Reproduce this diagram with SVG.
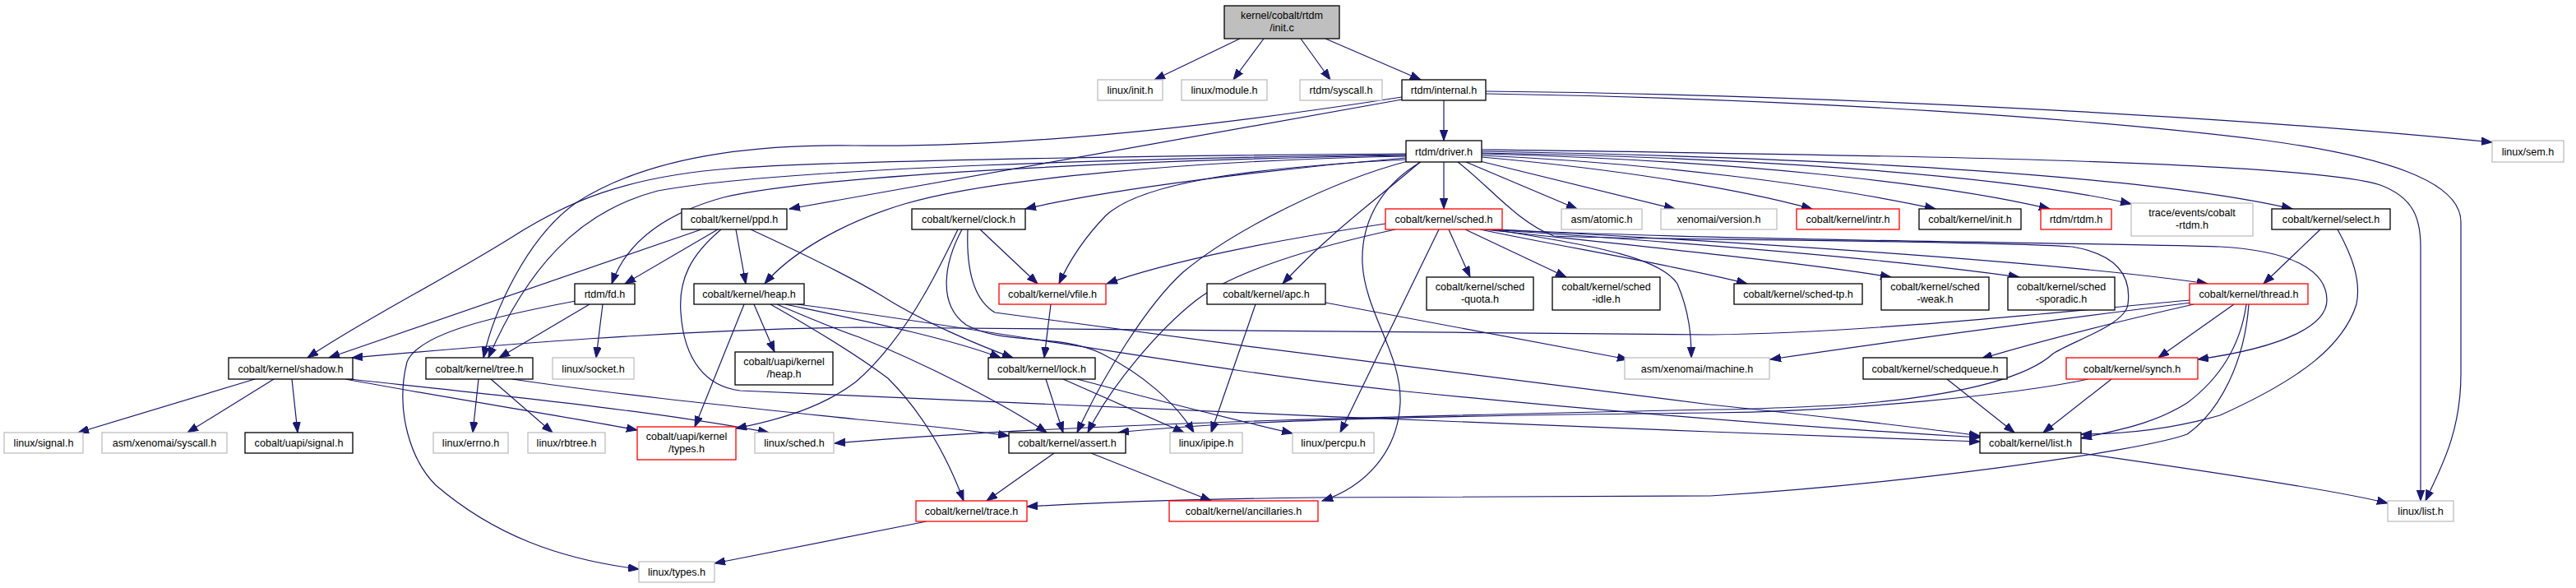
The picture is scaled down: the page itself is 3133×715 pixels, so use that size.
<svg xmlns="http://www.w3.org/2000/svg" width="3133" height="715" viewBox="0 0 3133 715">
<style>
.b{fill:#fff;stroke:#000;stroke-width:1.3}
.g{fill:#fff;stroke:#bfbfbf;stroke-width:1.3}
.r{fill:#fff;stroke:#f00;stroke-width:1.3}
.root{fill:#bfbfbf;stroke:#000;stroke-width:1.3}
text{font-family:"Liberation Sans",Arial,Helvetica,sans-serif;font-size:12.6px;fill:#000;text-anchor:middle}
.e path{fill:none;stroke:#191970;stroke-width:1.2;marker-end:url(#a)}
</style>
<defs>
<marker id="a" markerWidth="14" markerHeight="10" refX="13" refY="5" orient="auto" markerUnits="userSpaceOnUse"><path d="M0,0.3 L13,5 L0,9.7 z" fill="#191970" stroke="#191970" stroke-width="1"/></marker>
</defs>
<rect width="3133" height="715" fill="#fff"/>
<g class="e" id="edges">
<path d="M1508,47 L1404,97"/>
<path d="M1537,47 L1500,97"/>
<path d="M1582,47 L1618,97"/>
<path d="M1612,47 L1728,97"/>
<path d="M1756,122 L1756,171"/>
<path d="M1807,111 C2200,115 2700,140 3031,173"/>
<path d="M1807,114 C2200,120 2550,145 2750,170 C2900,190 2993,220 2993,270 L2993,455 C2993,530 2965,575 2950,609"/>
<path d="M1705,121 L960,254"/>
<path d="M1705,118 C1500,150 1250,180 1040,177 C900,175 780,195 700,247 C640,290 600,380 588,435"/>
<path d="M1756,197 L1756,254"/>
<path d="M1783,197 L1918,254"/>
<path d="M1800,196 L2037,254"/>
<path d="M1802,191 C1960,205 2110,228 2204,254"/>
<path d="M1802,189 C2010,198 2220,225 2354,254"/>
<path d="M1802,187 C2100,195 2360,222 2493,254"/>
<path d="M1802,186 C2150,192 2450,215 2592,248"/>
<path d="M1802,184 C2250,192 2620,215 2788,254"/>
<path d="M1802,182 C2250,188 2800,195 2895,225 C2935,240 2944,265 2944,300 L2944,609"/>
<path d="M1710,192 C1550,205 1350,230 1247,254"/>
<path d="M1710,194 C1500,205 1385,225 1345,262 C1318,290 1300,318 1288,345"/>
<path d="M1710,190 C1450,195 1200,218 1100,248 C1020,272 960,310 930,345"/>
<path d="M1710,189 C1400,194 1000,212 880,240 C800,262 760,300 744,345"/>
<path d="M1710,188 C1400,192 950,204 800,232 C700,258 640,330 594,435"/>
<path d="M1710,187 C1400,189 1000,196 887,205 C760,215 690,245 620,290 C540,340 440,390 374,435"/>
<path d="M1727,197 C1690,230 1620,280 1560,345"/>
<path d="M1712,196 C1620,220 1500,280 1440,330 C1395,370 1340,460 1310,526"/>
<path d="M1728,197 C1680,225 1655,270 1657,320 C1660,380 1705,430 1703,490 C1700,550 1660,592 1608,609"/>
<path d="M1773,197 C1810,225 1845,270 1890,287 C2000,292 2400,292 2520,300 C2580,310 2592,340 2588,370 C2585,395 2520,415 2497,430 C2470,455 2400,480 2250,492 C2150,497 2100,498 2080,498 C1700,506 1300,515 1015,539"/>
<path d="M1762,279 L1788,337"/>
<path d="M1782,279 L1905,337"/>
<path d="M1800,279 C1900,300 2050,325 2125,345"/>
<path d="M1805,279 C2000,300 2200,320 2300,337"/>
<path d="M1810,279 C2050,295 2300,315 2456,337"/>
<path d="M1815,279 C2100,293 2500,318 2685,345"/>
<path d="M1820,279 C2100,293 2550,295 2700,300 C2790,305 2830,330 2830,365 C2830,395 2780,422 2673,437"/>
<path d="M1815,279 C1950,300 2020,315 2040,345 C2055,380 2057,410 2057,435"/>
<path d="M1685,272 C1550,292 1420,318 1346,345"/>
<path d="M1697,279 C1600,300 1500,330 1455,365 C1410,400 1350,470 1323,526"/>
<path d="M1750,279 L1630,526"/>
<path d="M2717,370 L2625,435"/>
<path d="M2732,370 C2725,420 2700,460 2660,490 C2620,515 2580,522 2531,533"/>
<path d="M2735,370 C2730,440 2700,500 2660,528 C2600,550 2300,590 2080,603 L1600,605 C1450,607 1350,610 1249,616"/>
<path d="M2665,368 C2450,395 2300,415 2153,437"/>
<path d="M2663,365 C2450,385 2250,405 2080,407 C1700,404 1200,398 1043,398 C800,402 600,420 428,435"/>
<path d="M2668,370 C2580,390 2480,415 2410,436"/>
<path d="M2822,279 L2753,345"/>
<path d="M2843,279 C2860,310 2872,340 2866,370 C2850,420 2800,460 2700,505 C2640,522 2580,528 2531,528"/>
<path d="M2568,461 L2485,526"/>
<path d="M2540,461 C2450,480 2250,500 2080,502 C1800,505 1500,510 1360,526"/>
<path d="M2368,461 L2450,526"/>
<path d="M2531,551 C2700,575 2850,598 2904,612"/>
<path d="M1527,370 L1473,526"/>
<path d="M1612,368 L1980,437"/>
<path d="M1192,279 L1262,345"/>
<path d="M1165,279 C1150,310 1135,340 1123,360 C1100,400 1070,440 1040,465 C1000,495 950,510 895,521"/>
<path d="M1170,279 C1148,320 1140,370 1175,395 C1220,420 1290,405 1340,430 C1390,455 1430,490 1452,526"/>
<path d="M1177,279 C1175,330 1185,365 1210,380 C1500,420 1900,470 2080,492 C2250,510 2350,522 2408,530"/>
<path d="M853,279 L400,435"/>
<path d="M873,279 L760,345"/>
<path d="M895,279 L907,345"/>
<path d="M913,279 C980,310 1040,340 1073,360 C1120,390 1190,420 1232,435"/>
<path d="M877,279 C840,310 825,340 828,380 C832,440 860,470 900,475 C1200,490 1700,510 2080,525 C2250,532 2350,535 2408,537"/>
<path d="M733,370 L725,435"/>
<path d="M717,370 L607,435"/>
<path d="M700,366 C600,385 510,405 495,440 C480,500 500,560 530,590 C600,650 680,680 777,692"/>
<path d="M917,370 L942,428"/>
<path d="M905,370 L845,519"/>
<path d="M955,370 C1050,390 1150,410 1217,435"/>
<path d="M970,370 C1200,400 1500,455 1700,475 C1950,500 2200,520 2408,532"/>
<path d="M945,370 C980,385 1010,398 1045,410 C1120,440 1220,490 1273,526"/>
<path d="M937,370 C990,400 1040,430 1080,460 C1120,500 1150,550 1172,609"/>
<path d="M1278,370 L1270,435"/>
<path d="M1272,461 L1293,526"/>
<path d="M1293,461 L1440,526"/>
<path d="M1310,461 C1400,485 1500,510 1572,527"/>
<path d="M310,461 L95,526"/>
<path d="M333,461 L228,526"/>
<path d="M355,461 L362,526"/>
<path d="M420,461 C550,485 680,505 775,523"/>
<path d="M425,461 C600,480 800,500 935,526"/>
<path d="M582,461 L575,526"/>
<path d="M597,461 L672,526"/>
<path d="M623,461 C750,480 900,495 1043,510 C1100,515 1170,522 1227,530"/>
<path d="M1282,551 L1200,609"/>
<path d="M1327,551 L1473,609"/>
<path d="M1127,634 L869,685"/>
</g>
<g id="n_root"><rect class="root" x="1489" y="7" width="140" height="40"/><text x="1559" y="22.5">kernel/cobalt/rtdm</text><text x="1559" y="37.5">/init.c</text></g>
<g id="n_linux_init"><rect class="g" x="1335" y="97" width="79" height="25"/><text x="1374.5" y="114">linux/init.h</text></g>
<g id="n_linux_module"><rect class="g" x="1437" y="97" width="104" height="25"/><text x="1489" y="114">linux/module.h</text></g>
<g id="n_rtdm_syscall"><rect class="g" x="1581" y="97" width="100" height="25"/><text x="1631" y="114">rtdm/syscall.h</text></g>
<g id="n_internal"><rect class="b" x="1705" y="97" width="102" height="25"/><text x="1756" y="114">rtdm/internal.h</text></g>
<g id="n_driver"><rect class="b" x="1710" y="171" width="92" height="26"/><text x="1756" y="188.5">rtdm/driver.h</text></g>
<g id="n_sem"><rect class="g" x="3031" y="171" width="87" height="26"/><text x="3074.5" y="188.5">linux/sem.h</text></g>
<g id="n_ppd"><rect class="b" x="829" y="254" width="128" height="25"/><text x="893" y="271">cobalt/kernel/ppd.h</text></g>
<g id="n_clock"><rect class="b" x="1109" y="254" width="138" height="25"/><text x="1178" y="271">cobalt/kernel/clock.h</text></g>
<g id="n_sched"><rect class="r" x="1685" y="254" width="142" height="25"/><text x="1756" y="271">cobalt/kernel/sched.h</text></g>
<g id="n_atomic"><rect class="g" x="1899" y="254" width="98" height="25"/><text x="1948" y="271">asm/atomic.h</text></g>
<g id="n_version"><rect class="g" x="2020" y="254" width="141" height="25"/><text x="2090.5" y="271">xenomai/version.h</text></g>
<g id="n_intr"><rect class="r" x="2185" y="254" width="125" height="25"/><text x="2247.5" y="271">cobalt/kernel/intr.h</text></g>
<g id="n_kinit"><rect class="b" x="2334" y="254" width="124" height="25"/><text x="2396" y="271">cobalt/kernel/init.h</text></g>
<g id="n_rtdm"><rect class="r" x="2482" y="254" width="86" height="25"/><text x="2525" y="271">rtdm/rtdm.h</text></g>
<g id="n_trace_ev"><rect class="g" x="2592" y="247" width="148" height="40"/><text x="2666" y="262.5">trace/events/cobalt</text><text x="2666" y="277.5">-rtdm.h</text></g>
<g id="n_select"><rect class="b" x="2763" y="254" width="144" height="25"/><text x="2835" y="271">cobalt/kernel/select.h</text></g>
<g id="n_fd"><rect class="b" x="699" y="345" width="73" height="25"/><text x="735.5" y="362">rtdm/fd.h</text></g>
<g id="n_heap"><rect class="b" x="844" y="345" width="134" height="25"/><text x="911" y="362">cobalt/kernel/heap.h</text></g>
<g id="n_vfile"><rect class="r" x="1215" y="345" width="130" height="25"/><text x="1280" y="362">cobalt/kernel/vfile.h</text></g>
<g id="n_apc"><rect class="b" x="1468" y="345" width="144" height="25"/><text x="1540" y="362">cobalt/kernel/apc.h</text></g>
<g id="n_quota"><rect class="b" x="1735" y="337" width="130" height="40"/><text x="1800" y="352.5">cobalt/kernel/sched</text><text x="1800" y="367.5">-quota.h</text></g>
<g id="n_idle"><rect class="b" x="1888" y="337" width="131" height="40"/><text x="1953.5" y="352.5">cobalt/kernel/sched</text><text x="1953.5" y="367.5">-idle.h</text></g>
<g id="n_tp"><rect class="b" x="2109" y="345" width="156" height="25"/><text x="2187" y="362">cobalt/kernel/sched-tp.h</text></g>
<g id="n_weak"><rect class="b" x="2288" y="337" width="131" height="40"/><text x="2353.5" y="352.5">cobalt/kernel/sched</text><text x="2353.5" y="367.5">-weak.h</text></g>
<g id="n_sporadic"><rect class="b" x="2442" y="337" width="130" height="40"/><text x="2507" y="352.5">cobalt/kernel/sched</text><text x="2507" y="367.5">-sporadic.h</text></g>
<g id="n_thread"><rect class="r" x="2663" y="345" width="144" height="25"/><text x="2735" y="362">cobalt/kernel/thread.h</text></g>
<g id="n_shadow"><rect class="b" x="278" y="435" width="151" height="26"/><text x="353.5" y="452.5">cobalt/kernel/shadow.h</text></g>
<g id="n_tree"><rect class="b" x="518" y="435" width="130" height="26"/><text x="583" y="452.5">cobalt/kernel/tree.h</text></g>
<g id="n_socket"><rect class="g" x="672" y="435" width="99" height="26"/><text x="721.5" y="452.5">linux/socket.h</text></g>
<g id="n_uheap"><rect class="b" x="894" y="428" width="119" height="40"/><text x="953.5" y="443.5">cobalt/uapi/kernel</text><text x="953.5" y="458.5">/heap.h</text></g>
<g id="n_lock"><rect class="b" x="1202" y="435" width="130" height="26"/><text x="1267" y="452.5">cobalt/kernel/lock.h</text></g>
<g id="n_machine"><rect class="g" x="1976" y="435" width="176" height="26"/><text x="2064" y="452.5">asm/xenomai/machine.h</text></g>
<g id="n_schedq"><rect class="b" x="2266" y="435" width="175" height="26"/><text x="2353.5" y="452.5">cobalt/kernel/schedqueue.h</text></g>
<g id="n_synch"><rect class="r" x="2513" y="435" width="160" height="26"/><text x="2593" y="452.5">cobalt/kernel/synch.h</text></g>
<g id="n_signal"><rect class="g" x="5" y="526" width="96" height="25"/><text x="53" y="543">linux/signal.h</text></g>
<g id="n_asyscall"><rect class="g" x="124" y="526" width="152" height="25"/><text x="200" y="543">asm/xenomai/syscall.h</text></g>
<g id="n_usignal"><rect class="b" x="298" y="526" width="131" height="25"/><text x="363.5" y="543">cobalt/uapi/signal.h</text></g>
<g id="n_errno"><rect class="g" x="527" y="526" width="91" height="25"/><text x="572.5" y="543">linux/errno.h</text></g>
<g id="n_rbtree"><rect class="g" x="642" y="526" width="94" height="25"/><text x="689" y="543">linux/rbtree.h</text></g>
<g id="n_types"><rect class="r" x="775" y="519" width="120" height="40"/><text x="835" y="534.5">cobalt/uapi/kernel</text><text x="835" y="549.5">/types.h</text></g>
<g id="n_lsched"><rect class="g" x="918" y="526" width="96" height="25"/><text x="966" y="543">linux/sched.h</text></g>
<g id="n_assert"><rect class="b" x="1227" y="526" width="142" height="25"/><text x="1298" y="543">cobalt/kernel/assert.h</text></g>
<g id="n_ipipe"><rect class="g" x="1423" y="526" width="88" height="25"/><text x="1467" y="543">linux/ipipe.h</text></g>
<g id="n_percpu"><rect class="g" x="1572" y="526" width="99" height="25"/><text x="1621.5" y="543">linux/percpu.h</text></g>
<g id="n_list"><rect class="b" x="2408" y="526" width="123" height="25"/><text x="2469.5" y="543">cobalt/kernel/list.h</text></g>
<g id="n_trace"><rect class="r" x="1114" y="609" width="135" height="25"/><text x="1181.5" y="626">cobalt/kernel/trace.h</text></g>
<g id="n_anc"><rect class="r" x="1422" y="609" width="181" height="25"/><text x="1512.5" y="626">cobalt/kernel/ancillaries.h</text></g>
<g id="n_llist"><rect class="g" x="2904" y="609" width="80" height="25"/><text x="2944" y="626">linux/list.h</text></g>
<g id="n_ltypes"><rect class="g" x="777" y="683" width="92" height="25"/><text x="823" y="700">linux/types.h</text></g>
</svg>
